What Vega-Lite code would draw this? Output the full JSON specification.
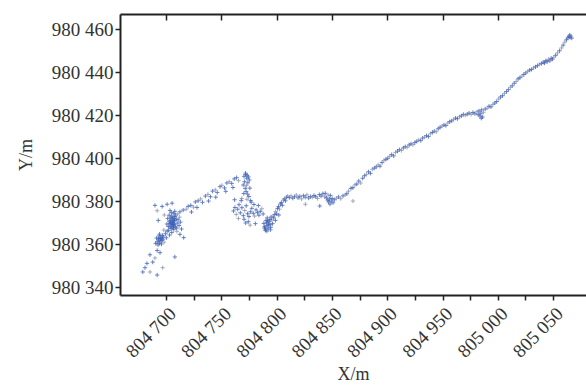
{
"$schema":"https://vega.github.io/schema/vega-lite/v6.json",
"width":466,"height":281,
"autosize":"none",
"padding":{"left":120,"top":14,"right":0,"bottom":93},
"background":"white",
"config":{"view":{"stroke":null},"font":"Liberation Serif"},
"data":{"values":[
{"x":804679,"y":980347,"c":"b"},{"x":804685.5,"y":980347,"c":"g"},{"x":804692,"y":980345.6,"c":"b"},{"x":804682.8,"y":980351,"c":"b"},{"x":804688,"y":980351.6,"c":"b"},{"x":804697,"y":980349,"c":"g"},{"x":804708,"y":980354,"c":"b"},{"x":804692,"y":980357,"c":"b"},{"x":804685.5,"y":980355,"c":"b"},{"x":804690,"y":980353.5,"c":"g"},{"x":804694.6,"y":980356,"c":"b"},{"x":804681,"y":980349,"c":"b"},
{"x":804692.0,"y":980361.0,"c":"b"},{"x":804693.1,"y":980362.5,"c":"b"},{"x":804694.0,"y":980360.4,"c":"b"},{"x":804695.2,"y":980363.1,"c":"b"},{"x":804696.3,"y":980361.7,"c":"b"},{"x":804693.8,"y":980363.8,"c":"b"},{"x":804695.9,"y":980360.0,"c":"b"},{"x":804691.5,"y":980362.8,"c":"b"},{"x":804697.0,"y":980362.2,"c":"b"},{"x":804694.7,"y":980361.4,"c":"b"},{"x":804692.8,"y":980359.6,"c":"b"},{"x":804696.8,"y":980364.0,"c":"b"},{"x":804693.5,"y":980361.9,"c":"b"},{"x":804695.5,"y":980362.6,"c":"b"},{"x":804698.2,"y":980360.9,"c":"g"},{"x":804690.6,"y":980360.3,"c":"b"},{"x":804694.2,"y":980364.6,"c":"b"},{"x":804697.5,"y":980363.3,"c":"b"},
{"x":804699.5,"y":980364.8,"c":"b"},{"x":804701.0,"y":980366.0,"c":"b"},{"x":804698.0,"y":980366.5,"c":"g"},{"x":804703.2,"y":980364.2,"c":"b"},{"x":804700.3,"y":980362.9,"c":"b"},
{"x":804702.1,"y":980368.2,"c":"b"},{"x":804703.4,"y":980369.5,"c":"b"},{"x":804704.2,"y":980371.0,"c":"b"},{"x":804705.0,"y":980368.8,"c":"b"},{"x":804705.7,"y":980370.3,"c":"b"},{"x":804706.4,"y":980372.1,"c":"b"},{"x":804707.1,"y":980369.4,"c":"b"},{"x":804707.8,"y":980370.9,"c":"b"},{"x":804708.5,"y":980368.0,"c":"b"},{"x":804709.2,"y":980371.6,"c":"b"},{"x":804704.6,"y":980367.3,"c":"b"},{"x":804706.9,"y":980366.8,"c":"b"},{"x":804703.0,"y":980370.6,"c":"b"},{"x":804705.3,"y":980373.0,"c":"b"},{"x":804708.0,"y":980372.8,"c":"b"},{"x":804710.1,"y":980369.7,"c":"b"},{"x":804711.0,"y":980371.3,"c":"b"},{"x":804712.3,"y":980372.5,"c":"g"},{"x":804701.5,"y":980371.9,"c":"b"},{"x":804702.8,"y":980373.4,"c":"b"},{"x":804704.0,"y":980369.9,"c":"b"},{"x":804706.0,"y":980370.0,"c":"b"},{"x":804706.6,"y":980368.3,"c":"b"},{"x":804707.4,"y":980371.8,"c":"b"},{"x":804705.4,"y":980371.6,"c":"b"},{"x":804703.8,"y":980367.9,"c":"b"},{"x":804709.6,"y":980367.4,"c":"b"},{"x":804708.8,"y":980373.5,"c":"b"},{"x":804710.6,"y":980374.0,"c":"g"},{"x":804707.0,"y":980374.3,"c":"b"},{"x":804704.8,"y":980374.6,"c":"b"},{"x":804702.4,"y":980366.4,"c":"b"},{"x":804705.9,"y":980369.1,"c":"b"},{"x":804706.8,"y":980370.6,"c":"b"},{"x":804707.6,"y":980369.0,"c":"b"},{"x":804704.4,"y":980372.4,"c":"b"},{"x":804700.8,"y":980369.3,"c":"b"},{"x":804711.8,"y":980368.6,"c":"b"},{"x":804709.8,"y":980365.9,"c":"g"},{"x":804713.0,"y":980370.2,"c":"b"},{"x":804705.2,"y":980365.4,"c":"b"},{"x":804707.9,"y":980375.2,"c":"b"},{"x":804703.6,"y":980375.6,"c":"b"},{"x":804712.6,"y":980375.0,"c":"b"},{"x":804706.2,"y":980367.6,"c":"b"},
{"x":804690,"y":980378,"c":"b"},{"x":804692,"y":980375.5,"c":"g"},{"x":804696.5,"y":980377.5,"c":"b"},{"x":804701,"y":980378.5,"c":"b"},{"x":804705.5,"y":980379,"c":"b"},{"x":804693,"y":980371,"c":"b"},{"x":804698.5,"y":980373.5,"c":"g"},{"x":804714,"y":980367,"c":"b"},{"x":804716,"y":980363,"c":"b"},{"x":804712.6,"y":980364.5,"c":"b"},
{"x":804715.5,"y":980375.8,"c":"b"},{"x":804718.2,"y":980376.2,"c":"g"},{"x":804720.0,"y":980377.5,"c":"b"},{"x":804722.4,"y":980378.0,"c":"b"},{"x":804724.8,"y":980377.2,"c":"g"},{"x":804726.5,"y":980379.6,"c":"b"},{"x":804729.0,"y":980380.1,"c":"b"},{"x":804731.3,"y":980381.0,"c":"g"},{"x":804733.0,"y":980379.4,"c":"b"},{"x":804735.6,"y":980382.3,"c":"b"},{"x":804737.9,"y":980383.1,"c":"g"},{"x":804740.2,"y":980382.0,"c":"b"},{"x":804742.1,"y":980384.6,"c":"b"},{"x":804744.5,"y":980385.2,"c":"g"},{"x":804746.3,"y":980384.0,"c":"b"},{"x":804748.8,"y":980386.7,"c":"b"},{"x":804750.5,"y":980387.3,"c":"g"},{"x":804752.9,"y":980386.1,"c":"b"},{"x":804755.0,"y":980388.4,"c":"b"},{"x":804757.2,"y":980389.0,"c":"g"},{"x":804759.4,"y":980388.2,"c":"b"},{"x":804761.7,"y":980390.3,"c":"b"},{"x":804763.8,"y":980390.9,"c":"b"},{"x":804765.6,"y":980389.5,"c":"g"},{"x":804723.0,"y":980374.9,"c":"b"},{"x":804728.0,"y":980377.0,"c":"b"},{"x":804738.5,"y":980380.0,"c":"b"},{"x":804745.0,"y":980381.8,"c":"b"},{"x":804754,"y":980384.5,"c":"b"},{"x":804760.5,"y":980386.3,"c":"b"},
{"x":804770.5,"y":980391.5,"c":"b"},{"x":804772.0,"y":980392.3,"c":"b"},{"x":804773.4,"y":980392.0,"c":"b"},{"x":804774.6,"y":980391.2,"c":"b"},{"x":804775.3,"y":980389.8,"c":"b"},{"x":804774.0,"y":980388.5,"c":"b"},{"x":804772.8,"y":980387.2,"c":"g"},{"x":804771.6,"y":980385.9,"c":"b"},{"x":804772.5,"y":980384.4,"c":"b"},{"x":804773.8,"y":980383.2,"c":"b"},{"x":804774.9,"y":980382.1,"c":"b"},{"x":804773.2,"y":980380.8,"c":"g"},{"x":804771.0,"y":980389.0,"c":"b"},{"x":804769.8,"y":980387.5,"c":"b"},{"x":804775.8,"y":980386.0,"c":"b"},{"x":804770.3,"y":980383.5,"c":"b"},{"x":804768.5,"y":980381.2,"c":"g"},{"x":804776.5,"y":980380.2,"c":"b"},{"x":804773,"y":980390.6,"c":"b"},{"x":804771.9,"y":980393.0,"c":"b"},
{"x":804761.0,"y":980375.4,"c":"b"},{"x":804762.3,"y":980377.0,"c":"b"},{"x":804763.5,"y":980373.8,"c":"g"},{"x":804764.8,"y":980376.2,"c":"b"},{"x":804766.0,"y":980378.3,"c":"b"},{"x":804767.2,"y":980374.5,"c":"b"},{"x":804768.6,"y":980376.9,"c":"b"},{"x":804769.9,"y":980373.2,"c":"b"},{"x":804771.2,"y":980375.6,"c":"g"},{"x":804772.5,"y":980377.8,"c":"b"},{"x":804773.7,"y":980374.1,"c":"b"},{"x":804775.0,"y":980372.8,"c":"b"},{"x":804776.3,"y":980375.0,"c":"b"},{"x":804777.6,"y":980376.6,"c":"b"},{"x":804778.9,"y":980374.3,"c":"b"},{"x":804780.1,"y":980373.0,"c":"g"},{"x":804781.4,"y":980375.9,"c":"b"},{"x":804782.7,"y":980374.6,"c":"b"},{"x":804784.0,"y":980373.4,"c":"b"},{"x":804785.3,"y":980375.2,"c":"b"},{"x":804786.6,"y":980376.4,"c":"g"},{"x":804787.8,"y":980374.0,"c":"b"},{"x":804779.5,"y":980378.4,"c":"b"},{"x":804783.5,"y":980377.9,"c":"b"},{"x":804770.6,"y":980371.5,"c":"b"},{"x":804765.5,"y":980371.9,"c":"g"},{"x":804774.4,"y":980370.4,"c":"b"},{"x":804777.0,"y":980379.5,"c":"b"},{"x":804768,"y":980380.2,"c":"b"},{"x":804762,"y":980380.6,"c":"b"},{"x":804776,"y":980368.8,"c":"g"},{"x":804780.8,"y":980369.5,"c":"b"},{"x":804772,"y":980369.8,"c":"b"},
{"x":804788.4,"y":980369.6,"c":"b"},{"x":804789.3,"y":980368.2,"c":"b"},{"x":804790.1,"y":980367.0,"c":"b"},{"x":804790.9,"y":980369.9,"c":"b"},{"x":804791.6,"y":980368.6,"c":"b"},{"x":804792.4,"y":980367.4,"c":"b"},{"x":804793.2,"y":980370.4,"c":"b"},{"x":804794.0,"y":980369.0,"c":"b"},{"x":804794.7,"y":980367.8,"c":"b"},{"x":804795.5,"y":980371.2,"c":"g"},{"x":804796.3,"y":980369.5,"c":"b"},{"x":804789.8,"y":980366.4,"c":"b"},{"x":804791.2,"y":980366.0,"c":"b"},{"x":804792.8,"y":980369.3,"c":"b"},{"x":804793.9,"y":980371.4,"c":"b"},{"x":804795.0,"y":980372.6,"c":"b"},{"x":804790.4,"y":980371.0,"c":"b"},{"x":804796.8,"y":980373.0,"c":"g"},{"x":804788.9,"y":980367.5,"c":"b"},{"x":804792.0,"y":980370.8,"c":"b"},{"x":804794.4,"y":980366.6,"c":"b"},{"x":804791.5,"y":980372.2,"c":"b"},
{"x":804797.4,"y":980372.2,"c":"b"},{"x":804798.3,"y":980373.8,"c":"b"},{"x":804799.1,"y":980375.1,"c":"g"},{"x":804800.0,"y":980374.0,"c":"b"},{"x":804800.8,"y":980376.5,"c":"b"},{"x":804801.7,"y":980377.4,"c":"b"},{"x":804802.6,"y":980376.2,"c":"g"},{"x":804803.4,"y":980378.6,"c":"b"},{"x":804804.3,"y":980379.3,"c":"b"},{"x":804805.2,"y":980378.0,"c":"b"},{"x":804806.1,"y":980380.4,"c":"g"},{"x":804807.0,"y":980381.0,"c":"b"},{"x":804808.0,"y":980380.1,"c":"b"},{"x":804809.0,"y":980381.8,"c":"b"},{"x":804810.0,"y":980382.3,"c":"g"},{"x":804798.9,"y":980371.0,"c":"b"},{"x":804802,"y":980373.5,"c":"b"},
{"x":804811.5,"y":980381.6,"c":"b"},{"x":804813.0,"y":980382.4,"c":"g"},{"x":804814.6,"y":980381.3,"c":"b"},{"x":804816.2,"y":980382.0,"c":"b"},{"x":804817.8,"y":980382.8,"c":"g"},{"x":804819.4,"y":980381.5,"c":"b"},{"x":804821.0,"y":980382.2,"c":"b"},{"x":804822.6,"y":980381.0,"c":"g"},{"x":804824.2,"y":980382.5,"c":"b"},{"x":804825.8,"y":980381.8,"c":"b"},{"x":804827.4,"y":980382.9,"c":"g"},{"x":804829.0,"y":980381.4,"c":"b"},{"x":804830.6,"y":980382.1,"c":"b"},{"x":804832.2,"y":980381.7,"c":"g"},{"x":804833.8,"y":980382.6,"c":"b"},{"x":804835.4,"y":980382.0,"c":"b"},{"x":804837.0,"y":980381.2,"c":"g"},{"x":804838.6,"y":980383.0,"c":"b"},{"x":804840.2,"y":980382.3,"c":"b"},{"x":804841.8,"y":980383.4,"c":"b"},{"x":804843.4,"y":980382.0,"c":"g"},{"x":804845.0,"y":980381.5,"c":"b"},{"x":804846.2,"y":980380.4,"c":"b"},{"x":804847.0,"y":980379.6,"c":"b"},{"x":804847.8,"y":980381.0,"c":"b"},{"x":804848.6,"y":980382.6,"c":"b"},{"x":804849.4,"y":980380.0,"c":"b"},{"x":804850.2,"y":980381.2,"c":"b"},{"x":804851.0,"y":980379.2,"c":"b"},{"x":804848.2,"y":980378.6,"c":"b"},{"x":804846.5,"y":980382.8,"c":"g"},{"x":804852.2,"y":980380.6,"c":"b"},{"x":804854.0,"y":980381.3,"c":"g"},{"x":804856.0,"y":980381.9,"c":"b"},{"x":804858.0,"y":980381.1,"c":"g"},{"x":804860.0,"y":980382.4,"c":"b"},{"x":804862.0,"y":980382.9,"c":"g"},{"x":804844,"y":980383.6,"c":"b"},{"x":804826,"y":980378.5,"c":"g"},{"x":804839,"y":980377.7,"c":"b"},{"x":804869,"y":980380,"c":"g"},
{"x":804863.5,"y":980383.4,"c":"b"},{"x":804865.0,"y":980384.6,"c":"g"},{"x":804867.2,"y":980385.9,"c":"b"},{"x":804869.0,"y":980386.2,"c":"b"},{"x":804870.8,"y":980387.5,"c":"g"},{"x":804872.5,"y":980387.9,"c":"b"},{"x":804874.3,"y":980389.3,"c":"b"},{"x":804876.0,"y":980388.4,"c":"g"},{"x":804877.8,"y":980390.6,"c":"b"},{"x":804879.5,"y":980391.8,"c":"b"},{"x":804881.2,"y":980392.4,"c":"g"},{"x":804883.0,"y":980393.6,"c":"b"},{"x":804884.8,"y":980392.9,"c":"b"},{"x":804886.5,"y":980394.8,"c":"g"},{"x":804888.3,"y":980395.3,"c":"b"},{"x":804890.0,"y":980395.9,"c":"b"},{"x":804891.8,"y":980396.8,"c":"g"},{"x":804893.5,"y":980396.2,"c":"b"},{"x":804895.3,"y":980397.9,"c":"b"},{"x":804897.0,"y":980398.9,"c":"g"},{"x":804898.8,"y":980399.4,"c":"b"},{"x":804900.5,"y":980399.9,"c":"b"},{"x":804902.3,"y":980400.8,"c":"g"},{"x":804904.0,"y":980401.6,"c":"b"},{"x":804905.8,"y":980401.0,"c":"b"},{"x":804907.5,"y":980402.6,"c":"g"},{"x":804909.3,"y":980403.2,"c":"b"},{"x":804911.0,"y":980403.9,"c":"b"},{"x":804912.8,"y":980403.5,"c":"g"},{"x":804914.5,"y":980404.7,"c":"b"},{"x":804916.3,"y":980405.3,"c":"b"},{"x":804918.0,"y":980405.0,"c":"g"},{"x":804919.8,"y":980406.1,"c":"b"},{"x":804921.5,"y":980406.6,"c":"b"},{"x":804923.3,"y":980406.2,"c":"g"},{"x":804925.0,"y":980407.2,"c":"b"},{"x":804926.8,"y":980407.8,"c":"b"},{"x":804928.5,"y":980408.4,"c":"g"},{"x":804930.3,"y":980408.1,"c":"b"},{"x":804932.0,"y":980409.3,"c":"b"},{"x":804933.8,"y":980409.7,"c":"g"},{"x":804935.5,"y":980410.4,"c":"b"},{"x":804937.3,"y":980410.0,"c":"b"},{"x":804939.0,"y":980411.3,"c":"g"},{"x":804940.8,"y":980411.9,"c":"b"},{"x":804942.5,"y":980412.5,"c":"b"},{"x":804944.3,"y":980412.2,"c":"g"},{"x":804946.0,"y":980413.6,"c":"b"},{"x":804947.8,"y":980414.3,"c":"b"},{"x":804949.5,"y":980414.8,"c":"g"},{"x":804951.3,"y":980415.4,"c":"b"},{"x":804953.0,"y":980415.1,"c":"b"},{"x":804954.8,"y":980416.3,"c":"g"},{"x":804956.5,"y":980416.9,"c":"b"},{"x":804958.3,"y":980417.3,"c":"b"},{"x":804960.0,"y":980417.9,"c":"g"},{"x":804961.8,"y":980418.6,"c":"b"},{"x":804963.5,"y":980418.3,"c":"b"},{"x":804965.3,"y":980419.2,"c":"g"},{"x":804967.0,"y":980419.6,"c":"b"},{"x":804968.8,"y":980420.3,"c":"b"},{"x":804970.5,"y":980419.9,"c":"g"},{"x":804972.3,"y":980420.4,"c":"b"},{"x":804974.0,"y":980420.9,"c":"b"},{"x":804975.8,"y":980420.3,"c":"g"},{"x":804977.5,"y":980421.2,"c":"b"},{"x":804979.3,"y":980420.6,"c":"b"},{"x":804981.0,"y":980421.5,"c":"g"},{"x":804982.2,"y":980420.2,"c":"b"},{"x":804983.0,"y":980421.9,"c":"b"},{"x":804983.8,"y":980419.6,"c":"b"},{"x":804984.6,"y":980420.8,"c":"b"},{"x":804985.4,"y":980422.4,"c":"b"},{"x":804986.2,"y":980419.1,"c":"b"},{"x":804987.0,"y":980421.3,"c":"g"},{"x":804985.0,"y":980418.5,"c":"b"},{"x":804988.5,"y":980422.8,"c":"b"},{"x":804990.3,"y":980423.2,"c":"g"},{"x":804992.0,"y":980424.1,"c":"b"},{"x":804993.8,"y":980423.8,"c":"b"},{"x":804995.5,"y":980424.9,"c":"g"},{"x":804997.3,"y":980425.6,"c":"b"},{"x":804999.0,"y":980426.3,"c":"b"},{"x":805000.8,"y":980427.5,"c":"g"},{"x":805002.5,"y":980428.4,"c":"b"},{"x":805004.3,"y":980429.0,"c":"b"},{"x":805006.0,"y":980430.1,"c":"g"},{"x":805007.8,"y":980430.9,"c":"b"},{"x":805009.5,"y":980431.8,"c":"b"},{"x":805011.3,"y":980432.9,"c":"g"},{"x":805013.0,"y":980433.6,"c":"b"},{"x":805014.8,"y":980434.8,"c":"b"},{"x":805016.5,"y":980435.6,"c":"g"},{"x":805018.3,"y":980436.8,"c":"b"},{"x":805020.0,"y":980437.4,"c":"b"},{"x":805021.8,"y":980438.1,"c":"g"},{"x":805023.5,"y":980438.9,"c":"b"},{"x":805025.3,"y":980439.6,"c":"b"},{"x":805027.0,"y":980440.3,"c":"g"},{"x":805028.8,"y":980440.9,"c":"b"},{"x":805030.5,"y":980441.2,"c":"b"},{"x":805032.3,"y":980441.9,"c":"g"},{"x":805034.0,"y":980442.4,"c":"b"},{"x":805035.8,"y":980443.0,"c":"b"},{"x":805037.5,"y":980443.6,"c":"g"},{"x":805039.3,"y":980443.9,"c":"b"},{"x":805041.0,"y":980444.6,"c":"b"},{"x":805042.2,"y":980444.2,"c":"b"},{"x":805043.4,"y":980445.3,"c":"b"},{"x":805044.6,"y":980444.8,"c":"b"},{"x":805045.8,"y":980445.9,"c":"g"},{"x":805047.0,"y":980445.2,"c":"b"},{"x":805048.2,"y":980446.4,"c":"b"},{"x":805049.4,"y":980446.0,"c":"b"},{"x":805050.6,"y":980446.9,"c":"g"},{"x":805052.3,"y":980447.8,"c":"b"},{"x":805054.0,"y":980448.9,"c":"g"},{"x":805055.8,"y":980449.9,"c":"b"},{"x":805057.5,"y":980451.2,"c":"g"},{"x":805059.0,"y":980452.5,"c":"b"},{"x":805060.5,"y":980453.9,"c":"g"},{"x":805062.0,"y":980455.0,"c":"b"},{"x":805063.3,"y":980455.9,"c":"b"},{"x":805064.3,"y":980456.6,"c":"b"},{"x":805065.3,"y":980456.1,"c":"b"},{"x":805066.2,"y":980456.8,"c":"g"},{"x":805065.0,"y":980457.2,"c":"b"},{"x":805066.8,"y":980455.8,"c":"b"}
]},
"layer":[
{"mark":{"type":"point","shape":"M-1,0H1M0,-1V1","filled":false,"size":18,"strokeWidth":0.9,"opacity":0.85},
"encoding":{
"x":{"field":"x","type":"quantitative","scale":{"domain":[804658.4,805079.7],"nice":false,"zero":false},
"axis":{"orient":"bottom","values":[804700,804725,804750,804775,804800,804825,804850,804875,804900,804925,804950,804975,805000,805025,805050],
"labelExpr":"datum.value % 50 == 0 ? replace(format(datum.value, ','), ',', ' ') : ''",
"labelAngle":-45,"labelAlign":"right","labelBaseline":"top","labelFont":"Liberation Serif","labelFontSize":19,"labelColor":"#333","labelPadding":4,"labelFlush":false,"labelOverlap":false,
"grid":false,"domainColor":"#222","domainWidth":2,"tickColor":"#222","tickWidth":1.5,"tickSize":5,
"title":"X/m","titleFont":"Liberation Serif","titleFontSize":18,"titleFontWeight":"normal","titleColor":"#333","titlePadding":4}},
"y":{"field":"y","type":"quantitative","scale":{"domain":[980336.3,980467],"nice":false,"zero":false},
"axis":{"values":[980340,980360,980380,980400,980420,980440,980460],
"labelExpr":"replace(format(datum.value, ','), ',', ' ')",
"labelFont":"Liberation Serif","labelFontSize":19,"labelColor":"#333","labelPadding":2,"labelFlush":false,
"grid":false,"domainColor":"#222","domainWidth":2,"tickColor":"#222","tickWidth":1.5,"tickSize":5,
"title":"Y/m","titleFont":"Liberation Serif","titleFontSize":18,"titleFontWeight":"normal","titleColor":"#333","titlePadding":16}},
"color":{"field":"c","type":"nominal","scale":{"domain":["b","g"],"range":["#3a5db3","#8a8ea6"]},"legend":null}
}},
{"mark":{"type":"point","opacity":0},
"encoding":{
"x":{"field":"x","type":"quantitative","scale":{"domain":[804658.4,805079.7],"nice":false,"zero":false},
"axis":{"orient":"top","values":[804700,804750,804800,804850,804900,804950,805000,805050],"labels":false,"title":null,"grid":false,"domainColor":"#222","domainWidth":2,"tickColor":"#222","tickWidth":1.5,"tickSize":-6}}
}}
],
"resolve":{"axis":{"x":"independent"}}
}
